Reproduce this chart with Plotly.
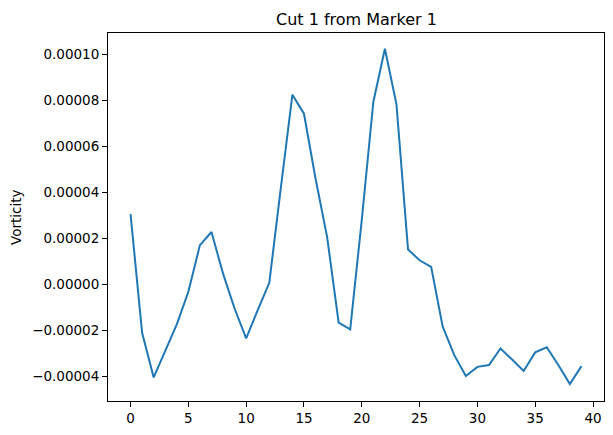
import plotly.graph_objects as go

x_index = list(range(40))
vorticity = [
    3.05e-5, -2.12e-5, -4.06e-5, -2.88e-5, -1.75e-5, -3.3e-6, 1.70e-5, 2.27e-5,
    4.6e-6, -1.06e-5, -2.36e-5, -1.13e-5, 6e-7, 4.2e-5, 8.25e-5, 7.42e-5,
    4.6e-5, 2.06e-5, -1.67e-5, -1.97e-5, 2.8e-5, 7.93e-5, 1.025e-4, 7.83e-5,
    1.51e-5, 1.04e-5, 7.5e-6, -1.85e-5, -3.09e-5, -4.0e-5, -3.6e-5, -3.52e-5,
    -2.8e-5, -3.28e-5, -3.78e-5, -2.97e-5, -2.75e-5, -3.52e-5, -4.35e-5, -3.57e-5,
]
title_text = "Cut 1 from Marker 1"
ylabel_text = "Vorticity"
x_ticks = [0, 5, 10, 15, 20, 25, 30, 35, 40]
y_ticks = [-4e-5, -2e-5, 0, 2e-5, 4e-5, 6e-5, 8e-5, 1e-4]

W, H = 613, 435
L, R, T, B = 108, 604, 32.5, 401

fig = go.Figure()
fig.add_trace(go.Scatter(x=x_index, y=vorticity, mode="lines",
                         line=dict(color="#1f77b4", width=2), showlegend=False,
                         hoverinfo="x+y"))

font = dict(family="DejaVu Sans", size=13.5, color="black")

fig.update_layout(
    width=W, height=H,
    margin=dict(l=L, r=W - R, t=T, b=H - B, pad=0),
    paper_bgcolor="white", plot_bgcolor="white",
    font=font,
    xaxis=dict(range=[-1.95, 40.95], tickvals=x_ticks, ticks="outside", ticklen=5,
               tickwidth=1, tickcolor="black", showline=True, linecolor="black",
               linewidth=1, mirror=True, showgrid=False, zeroline=False,
               tickfont=font),
    yaxis=dict(range=[-5.087e-5, 1.0935e-4], tickvals=y_ticks, tickformat=".5f",
               ticks="outside", ticklen=5, tickwidth=1, tickcolor="black",
               showline=True, linecolor="black", linewidth=1, mirror=True,
               showgrid=False, zeroline=False, tickfont=font),
    annotations=[
        dict(text=title_text, xref="paper", yref="paper", x=0.5, y=1,
             yshift=14, xanchor="center", yanchor="middle", showarrow=False,
             font=dict(family="DejaVu Sans", size=16, color="black")),
        dict(text=ylabel_text, xref="paper", yref="paper", x=0, y=0.5,
             xshift=-(L - 16), xanchor="center", yanchor="middle",
             textangle=-90, showarrow=False, font=font),
    ],
)

fig.write_html("out.html")
